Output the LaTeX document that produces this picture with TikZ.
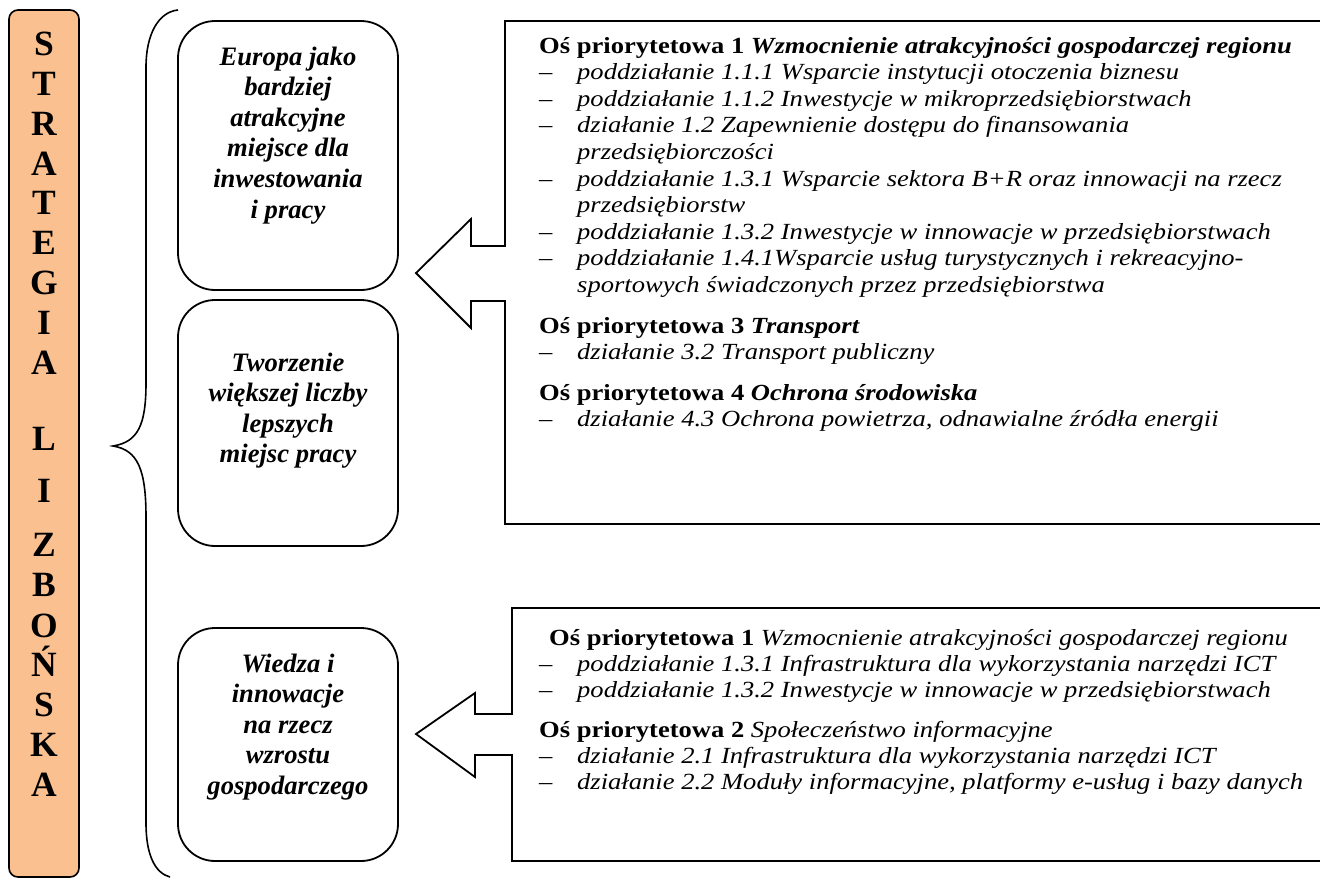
\documentclass[tikz,border=0pt]{standalone}
\usepackage{fontspec}
\setmainfont{Liberation Serif}
\newfontfamily\rfont[FakeStretch=1.15]{Liberation Serif}
\definecolor{peach}{HTML}{FAC090}
\newcommand\ritem[4]{\node[rt] (#1d) at (539,#2) {–};\node[rt] (#1) at (#3,#2) {\itshape #4};}
\begin{document}
\begin{tikzpicture}[x=1pt,y=-1pt]
\tikzset{
  lett/.style={anchor=base,inner sep=0pt,font=\fontsize{35.5}{40}\selectfont\bfseries},
  lbox/.style={draw,line width=1.8pt,rounded corners=37pt},
  lt/.style={anchor=base,inner sep=0pt,font=\fontsize{26.6}{30}\selectfont\bfseries\itshape},
  rt/.style={anchor=base west,inner sep=0pt,font=\rfont\fontsize{23.1}{26}\selectfont},
  callout/.style={draw,line width=1.8pt,line join=miter},
  brace/.style={draw,line width=1.6pt}
}
\clip (0,0) rectangle (1320,879);
\fill[white] (0,0) rectangle (1320,879);
% orange column
\draw[line width=1.6pt,fill=peach,rounded corners=9pt] (9,10) rectangle (79,877);
\foreach \l/\y [count=\i] in {S/55.3,T/95.2,R/135.1,A/175,T/214.9,E/254.8,G/294.7,I/334.6,A/374.5,L/450,I/502,Z/556,B/596,O/637,Ń/676,S/716,K/756,A/796}
  \node[lett] (let\i) at (44,\y) {\l};
% brace
\draw[brace] (178,10) .. controls (158,12) and (146,35) .. (146,67) -- (146,383)
  .. controls (146,425) and (138,442) .. (113,446)
  .. controls (138,450) and (146,470) .. (146,517) -- (146,823)
  .. controls (146,855) and (155,873) .. (170,877);
% left boxes
\draw[lbox] (178,21) rectangle (398,290);
\draw[lbox] (178,300) rectangle (398,546);
\draw[lbox] (178,628) rectangle (398,861);
\node[lt] (a1) at (288,65) {Europa jako};
\node[lt] (a2) at (288,95.6) {bardziej};
\node[lt] (a3) at (288,126.2) {atrakcyjne};
\node[lt] (a4) at (288,156.8) {miejsce dla};
\node[lt] (a5) at (288,187.4) {inwestowania};
\node[lt] (a6) at (288,218) {i pracy};
\node[lt] (b1) at (288,371) {Tworzenie};
\node[lt] (b2) at (288,401.6) {większej liczby};
\node[lt] (b3) at (288,432.2) {lepszych};
\node[lt] (b4) at (288,462.8) {miejsc pracy};
\node[lt] (c1) at (288,672) {Wiedza i};
\node[lt] (c2) at (288,702.6) {innowacje};
\node[lt] (c3) at (288,733.2) {na rzecz};
\node[lt] (c4) at (288,763.8) {wzrostu};
\node[lt] (c5) at (288,794.4) {gospodarczego};
% right callout boxes
\draw[callout] (1330,21) -- (505,21) -- (505,246) -- (471,246) -- (471,219) -- (416,273)
  -- (471,328) -- (471,301) -- (505,301) -- (505,524) -- (1330,524);
\draw[callout] (1330,608) -- (512,608) -- (512,714) -- (475,714) -- (475,693) -- (416,734)
  -- (475,777) -- (475,755) -- (512,755) -- (512,861) -- (1330,861);
% upper text
\node[rt] (u1) at (539,53) {\textbf{Oś priorytetowa 1 \textit{Wzmocnienie atrakcyjności gospodarczej regionu}}};
\ritem{u2}{79.6}{577}{poddziałanie 1.1.1 Wsparcie instytucji otoczenia biznesu}
\ritem{u3}{106.2}{577}{poddziałanie 1.1.2 Inwestycje w mikroprzedsiębiorstwach}
\ritem{u4}{132.8}{577}{działanie 1.2 Zapewnienie dostępu do finansowania}
\node[rt] (u5) at (577,159.4) {\itshape przedsiębiorczości};
\ritem{u6}{186}{577}{poddziałanie 1.3.1 Wsparcie sektora B+R oraz innowacji na rzecz}
\node[rt] (u7) at (577,212.6) {\itshape przedsiębiorstw};
\ritem{u8}{239.2}{577}{poddziałanie 1.3.2 Inwestycje w innowacje w przedsiębiorstwach}
\ritem{u9}{265.8}{577}{poddziałanie 1.4.1Wsparcie usług turystycznych i rekreacyjno-}
\node[rt] (u10) at (577,292.4) {\itshape sportowych świadczonych przez przedsiębiorstwa};
\node[rt] (u11) at (539,333) {\textbf{Oś priorytetowa 3 \textit{Transport}}};
\ritem{u12}{359.6}{577}{działanie 3.2 Transport publiczny}
\node[rt] (u13) at (539,400) {\textbf{Oś priorytetowa 4 \textit{Ochrona środowiska}}};
\ritem{u14}{426.6}{577}{działanie 4.3 Ochrona powietrza, odnawialne źródła energii}
% lower text
\node[rt] (w1) at (549,645) {\textbf{Oś priorytetowa 1} \textit{Wzmocnienie atrakcyjności gospodarczej regionu}};
\ritem{w2}{671}{577}{poddziałanie 1.3.1 Infrastruktura dla wykorzystania narzędzi ICT}
\ritem{w3}{697}{577}{poddziałanie 1.3.2 Inwestycje w innowacje w przedsiębiorstwach}
\node[rt] (w4) at (539,737) {\textbf{Oś priorytetowa 2} \textit{Społeczeństwo informacyjne}};
\ritem{w5}{763}{577}{działanie 2.1 Infrastruktura dla wykorzystania narzędzi ICT}
\ritem{w6}{789}{577}{działanie 2.2 Moduły informacyjne, platformy e-usług i bazy danych}
\end{tikzpicture}
\end{document}
